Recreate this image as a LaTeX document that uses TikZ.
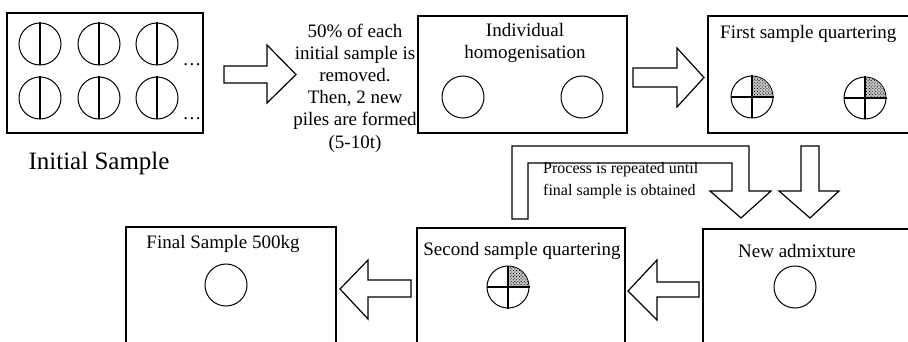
\documentclass[tikz,border=0pt]{standalone}
\usepackage{fontspec}
\setmainfont{Liberation Serif}
\usetikzlibrary{patterns.meta}
\tikzset{
  box/.style={draw, line width=1.1pt, rectangle, inner sep=0pt},
  circ/.style={draw, circle, line width=1pt, minimum size=42pt, inner sep=0pt},
  blockarrow/.style={draw, fill=white, line width=1.2pt, line join=miter},
  txt/.style={inner sep=0pt, font=\fontsize{19}{22.2}\selectfont},
  smalltxt/.style={inner sep=0pt, font=\fontsize{16}{22}\selectfont},
  bigtxt/.style={inner sep=0pt, font=\fontsize{25}{28}\selectfont},
  diam/.style={line width=1.3pt},
  quarterbg/.style={fill=black!22},
  quarter/.style={pattern={Dots[distance=2.2pt, radius=0.6pt, angle=45]}, pattern color=black}
}
\newcommand{\quartered}[2]{%
  \node[circ] (#1) at #2 {};
  \begin{scope}
    \clip (#1.center) rectangle (#1.east |- #1.north);
    \path[quarterbg] (#1.center) circle[radius=20.5pt];
    \path[quarter] (#1.center) circle[radius=20.5pt];
  \end{scope}
  \draw[diam] (#1.north) -- (#1.south);
  \draw[diam] (#1.west) -- (#1.east);
}
\begin{document}
\begin{tikzpicture}[x=1pt,y=-1pt]
\useasboundingbox (0,0) rectangle (908,342);
\clip (0,0) rectangle (908,342);

% boxes
\node[box, minimum width=196pt, minimum height=120pt] (init) at (105,73) {};
\node[box, minimum width=209pt, minimum height=117pt] (homog) at (522.5,74.5) {};
\node[box, minimum width=212pt, minimum height=117pt] (first) at (814,74.5) {};
\node[box, minimum width=210pt, minimum height=133pt] (final) at (231,293.5) {};
\node[box, minimum width=208pt, minimum height=132pt] (second) at (521,294) {};
\node[box, minimum width=217pt, minimum height=131pt] (newadm) at (811.5,294.5) {};

% initial sample circles
\foreach \n/\x/\y in {a/40/44, b/99/44, c/157/44, d/40/98, e/99/98, f/157/98}{
  \node[circ] (i\n) at (\x,\y) {};
  \draw[diam] (i\n.north) -- (i\n.south);
}
\node[txt, anchor=base] (dots1) at (192,66) {.\kern1.5pt.\kern1.5pt.};
\node[txt, anchor=base] (dots2) at (192,120) {.\kern1.5pt.\kern1.5pt.};
\node[bigtxt] (initlbl) at (99,163) {Initial Sample};

% middle text
\node[txt, align=center] (midtxt) at (355,88) {50\% of each\\initial sample is\\removed.\\Then, 2 new\\piles are formed\\(5-10t)};

% homogenisation
\node[txt, align=center] (homlbl) at (525,43) {Individual\\homogenisation};
\node[circ] (h1) at (463,97) {};
\node[circ] (h2) at (582,97) {};

% first quartering
\node[txt, anchor=west] (firstlbl) at (720,34) {First sample quartering};
\quartered{q1}{(752,97)}
\quartered{q2}{(865,98)}

% bottom row
\node[txt] (finallbl) at (223,244) {Final Sample 500kg};
\node[circ] (fc) at (226,285) {};
\node[txt] (secondlbl) at (522,251) {Second sample quartering};
\quartered{q3}{(508,287)}
\node[txt] (newlbl) at (797,251) {New admixture};
\node[circ] (nc) at (795,287) {};

% block arrows
\draw[blockarrow] (224,66) -- (267,66) -- (267,45) -- (296,74.5) -- (267,103) -- (267,83) -- (224,83) -- cycle;
\draw[blockarrow] (633,68) -- (677,68) -- (677,48) -- (704,77.5) -- (677,107) -- (677,87) -- (633,87) -- cycle;
\draw[blockarrow] (411,280) -- (368,280) -- (368,260) -- (340,289) -- (368,319) -- (368,297) -- (411,297) -- cycle;
\draw[blockarrow] (699,282) -- (657,282) -- (657,260) -- (628,291) -- (657,320) -- (657,297) -- (699,297) -- cycle;
\draw[blockarrow] (801,146) -- (819,146) -- (819,191) -- (839,191) -- (810,218) -- (779,191) -- (801,191) -- cycle;
\draw[blockarrow] (512,219) -- (512,146) -- (749,146) -- (749,191) -- (771,191) -- (741,218) -- (710,191) -- (732,191) -- (732,163) -- (528,163) -- (528,219) -- cycle;
\node[smalltxt, align=left, anchor=west] (procTxt) at (543,181) {Process is repeated until\\final sample is obtained};
\end{tikzpicture}
\end{document}
